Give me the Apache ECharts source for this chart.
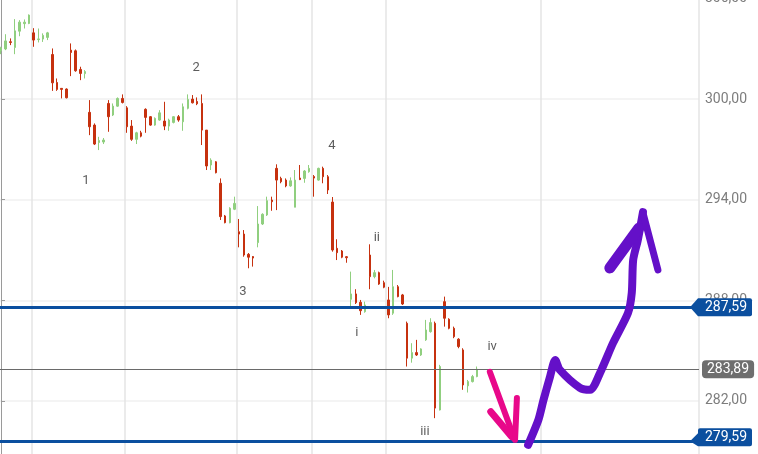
<!DOCTYPE html>
<html><head><meta charset="utf-8">
<script src="https://cdn.jsdelivr.net/npm/echarts@6/dist/echarts.min.js"></script>
<style>html,body{margin:0;padding:0;background:#fff}#c{width:758px;height:454px}</style>
</head><body><div id="c"></div>
<script>
// ---- data ----
const opens = [302.88,302.99,303.42,303.08,304.05,304.50,304.51,303.95,303.55,303.58,303.68,302.66,300.99,300.64,300.60,302.92,302.88,301.77,301.52,299.21,
298.45,297.41,297.44,299.74,299.05,299.58,300.04,299.48,298.39,297.60,297.99,299.39,298.95,298.45,298.75,298.69,298.39,298.61,298.95,298.65,
299.45,300.00,299.86,299.74,298.15,296.07,296.26,294.98,293.03,292.63,293.43,292.09,291.95,290.74,290.61,291.44,292.55,293.09,293.98,295.87,
295.27,295.17,294.82,293.55,295.29,295.27,295.67,295.38,295.17,295.87,295.37,293.86,291.10,290.94,290.60,288.06,288.38,287.88,287.32,290.70,
289.41,289.65,289.05,288.02,287.23,288.81,288.32,286.63,284.55,284.88,284.74,285.64,286.13,286.63,281.46,287.92,286.87,286.33,285.68,285.04,
282.90,283.15,283.45];
const closes = [303.06,303.47,303.38,304.07,304.59,304.59,305.01,303.52,303.59,303.80,303.95,300.97,300.58,300.58,300.08,302.78,301.69,301.53,301.64,298.35,
297.32,297.53,297.56,298.95,299.58,300.04,299.80,298.35,297.60,297.99,297.79,298.91,298.45,298.85,299.18,298.39,298.75,298.95,298.75,299.54,
299.98,299.78,299.72,298.15,296.01,296.36,295.61,292.99,292.63,293.49,293.78,291.95,290.70,290.57,290.52,292.55,293.13,293.94,293.88,295.17,
295.07,294.82,295.13,295.17,295.20,295.71,295.87,295.29,295.87,295.37,294.58,291.00,290.84,290.57,290.54,288.38,287.86,287.38,287.72,289.41,
289.65,288.97,288.78,287.13,288.81,288.22,287.78,284.55,284.88,284.74,285.10,286.23,286.67,281.57,284.05,286.93,286.33,285.83,285.24,282.95,
283.15,283.45,283.89];
const lows = [302.68,302.92,303.22,302.68,303.75,304.21,304.47,303.12,303.38,303.41,303.52,300.49,300.49,300.04,300.04,301.37,301.63,301.13,301.23,297.85,
297.26,296.96,297.32,298.05,298.99,299.54,299.74,297.99,297.51,297.32,297.72,297.99,298.41,298.41,298.71,298.15,298.11,298.55,298.65,298.11,
299.39,299.74,299.64,297.26,295.77,295.77,295.57,292.79,292.59,292.59,293.38,291.16,290.60,289.91,290.01,291.16,292.49,293.03,293.34,293.38,
294.98,294.74,294.77,293.55,295.17,295.01,295.61,294.18,295.13,294.98,294.34,290.90,290.40,290.51,290.24,287.66,287.78,287.13,287.26,288.66,
289.31,288.92,288.72,286.93,287.13,288.18,287.72,284.05,284.28,284.68,284.68,285.58,286.07,280.97,281.43,286.43,286.27,285.74,285.14,282.66,
282.50,283.10,283.41];
const highs = [303.12,303.87,303.62,304.77,304.71,304.75,305.05,304.23,304.21,303.92,304.01,303.02,301.23,300.64,300.64,303.32,302.96,301.93,301.73,299.94,
298.55,297.75,297.68,299.94,299.74,300.10,300.28,299.58,298.75,298.05,298.11,299.45,298.99,298.91,299.34,299.84,298.83,298.99,299.05,299.74,
300.28,300.24,300.10,300.28,298.15,296.47,296.30,295.27,293.09,293.55,294.18,292.85,292.19,290.82,290.64,293.62,293.19,294.18,294.18,296.11,
295.37,295.27,295.33,295.77,296.07,295.77,296.07,295.47,295.91,295.97,295.47,294.16,291.64,291.00,290.64,289.71,288.66,288.02,287.92,291.34,
289.81,289.71,289.17,288.80,289.81,288.91,288.38,286.73,285.44,285.64,285.14,286.83,286.93,286.73,284.15,288.22,286.93,286.43,285.74,285.14,
283.25,283.55,284.05];

const slotCount = 150;                       // candle slots shown on the time axis
const timeGridSlots = [7, 27, 51, 67, 83, 116]; // slots where a vertical grid line starts
const yMin = 276, yMax = 306, yStep = 6;

const blueLevels = [287.59, 279.59];
const lastPrice = 283.89;

const waveNames = ['1','2','3','4','i','ii','iii','iv'];
const waveX = [18.2, 41.8, 51.8, 70.9, 76.2, 80.5, 90.8, 105.2];
const waveY = [295.11, 301.85, 288.50, 297.20, 286.05, 291.72, 280.15, 285.22];

const pinkShaft = [[104.7,283.73],[109.9,279.80]];
const pinkBarbL = [[104.9,281.35],[109.4,279.86]];
const pinkBarbR = [[110.5,282.18],[110.1,279.68]];
const purplePath = [[112.9,279.38],[115.1,280.87],[116.2,282.06],[117.6,283.45],[118.7,284.44],[119.7,283.85],[124.0,282.78],[126.2,282.66],[128.3,283.67],[131.1,285.46],[134.3,287.25],[135.1,288.44],[135.4,290.40],[136.4,291.60],[137.5,293.26]];
const purpleBarbL = [[130.4,289.93],[136.6,292.30]];
const purpleBarbR = [[137.5,293.21],[140.7,289.81]];

// ---- chart ----
const categories = Array.from({length: slotCount}, (_, i) => String(i));
const candles = opens.map((o, i) => [o, closes[i], lows[i], highs[i]]);
const fmt = v => v.toFixed(2).replace('.', ',');
const FONT = 'Roboto, "Noto Sans", sans-serif';
const UP = '#90cf7f', DOWN = '#c6310f';
const BLUE = '#0b4f9f';
const axisEnd = slotCount - 0.5;

const chart = echarts.init(document.getElementById('c'), null, {renderer: 'canvas'});

function levelLine(value, color, width, label) {
  return {
    type: 'line', data: [], xAxisIndex: 0, yAxisIndex: 0, z: 5,
    markLine: {
      silent: true, animation: false, symbol: ['none', 'none'],
      lineStyle: {color: color, width: width, type: 'solid'},
      label: label || {show: false},
      data: [{yAxis: value}]
    }
  };
}

function stroke(data, color, width, smooth) {
  return {
    type: 'line', data: data, xAxisIndex: 1, yAxisIndex: 0, z: 10,
    symbol: 'none', showSymbol: false, smooth: smooth || false, silent: true,
    lineStyle: {color: color, width: width, cap: 'round', join: 'round'}
  };
}

const tagPath = 'path://M0,9 L8,0 L60,0 Q62,0 62,2 L62,16 Q62,18 60,18 L8,18 Z';
const tagPathLow = 'path://M0,13 L8,5 L8,2 Q8,0 10,0 L60,0 Q62,0 62,2 L62,16 Q62,18 60,18 L8,18 Z';

chart.setOption({
  animation: false,
  backgroundColor: '#ffffff',
  grid: {left: -1.34, right: 59, top: -1.5, bottom: -47.5, containLabel: false, outerBoundsMode: 'none'},
  xAxis: [{
    type: 'category', data: categories, boundaryGap: true,
    axisLine: {show: false}, axisTick: {show: false}, axisLabel: {show: false},
    splitLine: {show: true, interval: (idx) => timeGridSlots.indexOf(idx) >= 0,
      lineStyle: {color: '#e4e4e4', width: 1.5}}
  }, {
    type: 'value', min: -0.5, max: axisEnd, show: false
  }],
  yAxis: [{
    type: 'value', position: 'right', min: yMin, max: yMax, interval: yStep, scale: true,
    axisLine: {show: true, lineStyle: {color: '#9a9a9a', width: 1}},
    axisTick: {show: true, length: 4, lineStyle: {color: '#9a9a9a'}},
    axisLabel: {color: '#7d7d7d', fontSize: 14, fontFamily: FONT, margin: 6, formatter: fmt},
    splitLine: {show: true, lineStyle: {color: '#f0f0f0', width: 1.5}}
  }],
  series: [
    {
      type: 'candlestick', data: candles, xAxisIndex: 0, yAxisIndex: 0, barWidth: 2, z: 3,
      itemStyle: {color: UP, color0: DOWN, borderColor: UP, borderColor0: DOWN, borderWidth: 1}
    },
    levelLine(lastPrice, '#6a6a6a', 1, {
      show: true, position: 'end', distance: 3, formatter: fmt(lastPrice),
      color: '#fff', fontSize: 14, fontFamily: FONT, lineHeight: 14,
      backgroundColor: '#6e6e6e', borderRadius: 4, padding: [2, 5, 2, 5]
    }),
    levelLine(blueLevels[0], BLUE, 3),
    levelLine(blueLevels[1], BLUE, 3),
    {
      type: 'line', data: [], xAxisIndex: 1, yAxisIndex: 0, z: 8,
      markPoint: {
        silent: true, animation: false,
        itemStyle: {color: BLUE},
        label: {show: true, position: 'inside', color: '#fff', fontSize: 14, fontFamily: FONT, offset: [5, 0]},
        data: [
          {coord: [axisEnd, blueLevels[0]], value: fmt(blueLevels[0]), symbol: tagPath, symbolSize: [62, 18], symbolOffset: [22, 0]},
          {coord: [axisEnd, blueLevels[1]], value: fmt(blueLevels[1]), symbol: tagPathLow, symbolSize: [62, 18], symbolOffset: [22, -4]}
        ]
      }
    },
    {
      type: 'scatter', xAxisIndex: 1, yAxisIndex: 0, z: 6, silent: true,
      symbolSize: 1, itemStyle: {color: 'transparent'},
      data: waveNames.map((n, i) => ({name: n, value: [waveX[i], waveY[i]]})),
      label: {show: true, position: 'inside', formatter: '{b}', color: '#333', fontSize: 13, fontFamily: FONT}
    },
    stroke(pinkShaft, '#e8088a', 6),
    stroke(pinkBarbL, '#e8088a', 7),
    stroke(pinkBarbR, '#e8088a', 6),
    stroke(purplePath, '#6410c8', 8, 0.25),
    stroke(purpleBarbL, '#6410c8', 11),
    stroke(purpleBarbR, '#6410c8', 7)
  ]
});
</script>
</body></html>
